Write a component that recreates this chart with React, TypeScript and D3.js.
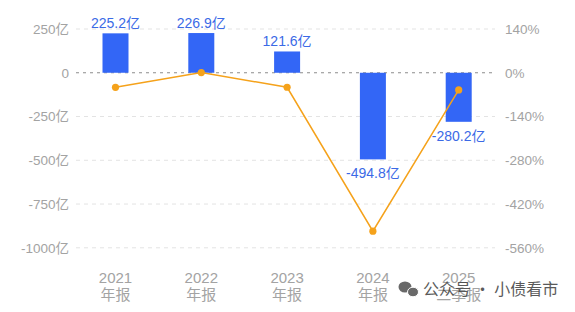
import React from "react";
import * as d3 from "d3";

const categories = ["2021", "2022", "2023", "2024", "2025"];
const catSub = ["年报", "年报", "年报", "年报", "二季报"];
const values = [225.2, 226.9, 121.6, -494.8, -280.2];
const growth = [-46.7, 0.75, -46.4, -506.9, -55];
const leftTicks = [250, 0, -250, -500, -750, -1000];
const rightTicks = [140, 0, -140, -280, -420, -560];

const W = 575;
const H = 312;
const FONT = "'Liberation Sans', 'Noto Sans CJK SC', sans-serif";

export default function App() {
  const x = d3.scaleBand<string>().domain(categories).range([72.6, 501.6]).paddingInner(0.7).paddingOuter(0.35);
  const yL = d3.scaleLinear().domain([-1000, 250]).range([247.8, 29.0]);
  const yR = d3.scaleLinear().domain([-560, 140]).range([247.8, 29.0]);
  const cx = (c: string) => (x(c) as number) + x.bandwidth() / 2;
  const bw = 26;
  const line = d3
    .line<number>()
    .x((_, i) => cx(categories[i]))
    .y((d) => yR(d));
  const gridX0 = 76;
  const gridX1 = 495;
  return (
    <svg width={W} height={H} style={{ position: "absolute", left: 0, top: 0, background: "#fff" }}>
      <g>
        {leftTicks.map((t) => (
          <line
            key={"g" + t}
            x1={gridX0}
            x2={gridX1}
            y1={yL(t)}
            y2={yL(t)}
            stroke={t === 0 ? "#8c8c8c" : "#e3e3e3"}
            strokeWidth={1}
            strokeDasharray={t === 0 ? "3,4" : "4,4"}
          />
        ))}
        {leftTicks.map((t) => (
          <text
            key={"l" + t}
            x={69}
            y={yL(t)}
            dy="0.36em"
            textAnchor="end"
            fontSize={13.5}
            fill="#a3a3a3"
            fontFamily={FONT}
          >
            {t === 0 ? "0" : `${t}亿`}
          </text>
        ))}
        {rightTicks.map((t) => (
          <text
            key={"r" + t}
            x={505}
            y={yR(t)}
            dy="0.36em"
            textAnchor="start"
            fontSize={13.5}
            fill="#a3a3a3"
            fontFamily={FONT}
          >
            {`${t}%`}
          </text>
        ))}
        {categories.map((c, i) => {
          const v = values[i];
          const y0 = yL(0);
          const y1 = yL(v);
          return (
            <g key={"b" + c}>
              <rect x={cx(c) - bw / 2} y={Math.min(y0, y1)} width={bw} height={Math.abs(y1 - y0)} fill="#3366f6" />
              <text
                x={cx(c)}
                y={v >= 0 ? y1 - 5 : y1 + 19}
                textAnchor="middle"
                fontSize={14}
                fill="#3b6ae6"
                fontFamily={FONT}
              >
                {`${v}亿`}
              </text>
            </g>
          );
        })}
        <path d={line(growth) || ""} fill="none" stroke="#f5a21b" strokeWidth={1.5} />
        {growth.map((g, i) => (
          <circle key={"p" + i} cx={cx(categories[i])} cy={yR(g)} r={3.6} fill="#f5a21b" />
        ))}
        {categories.map((c, i) => (
          <g key={"x" + c}>
            <text x={cx(c)} y={283} textAnchor="middle" fontSize={15} fill="#a3a3a3" fontFamily={FONT}>
              {c}
            </text>
            <text x={cx(c)} y={300} textAnchor="middle" fontSize={15} fill="#a3a3a3" fontFamily={FONT}>
              {catSub[i]}
            </text>
          </g>
        ))}
        <g opacity={0.88}>
          <ellipse cx={405} cy={287} rx={6.5} ry={5.5} fill="#555" />
          <ellipse cx={413} cy={292} rx={5.5} ry={4.8} fill="#555" stroke="#fff" strokeWidth={1} />
          <text x={423} y={295} fontSize={16} fill="#444" fontFamily="'Noto Sans CJK SC', sans-serif">
            公众号 · 小债看市
          </text>
        </g>
      </g>
    </svg>
  );
}
